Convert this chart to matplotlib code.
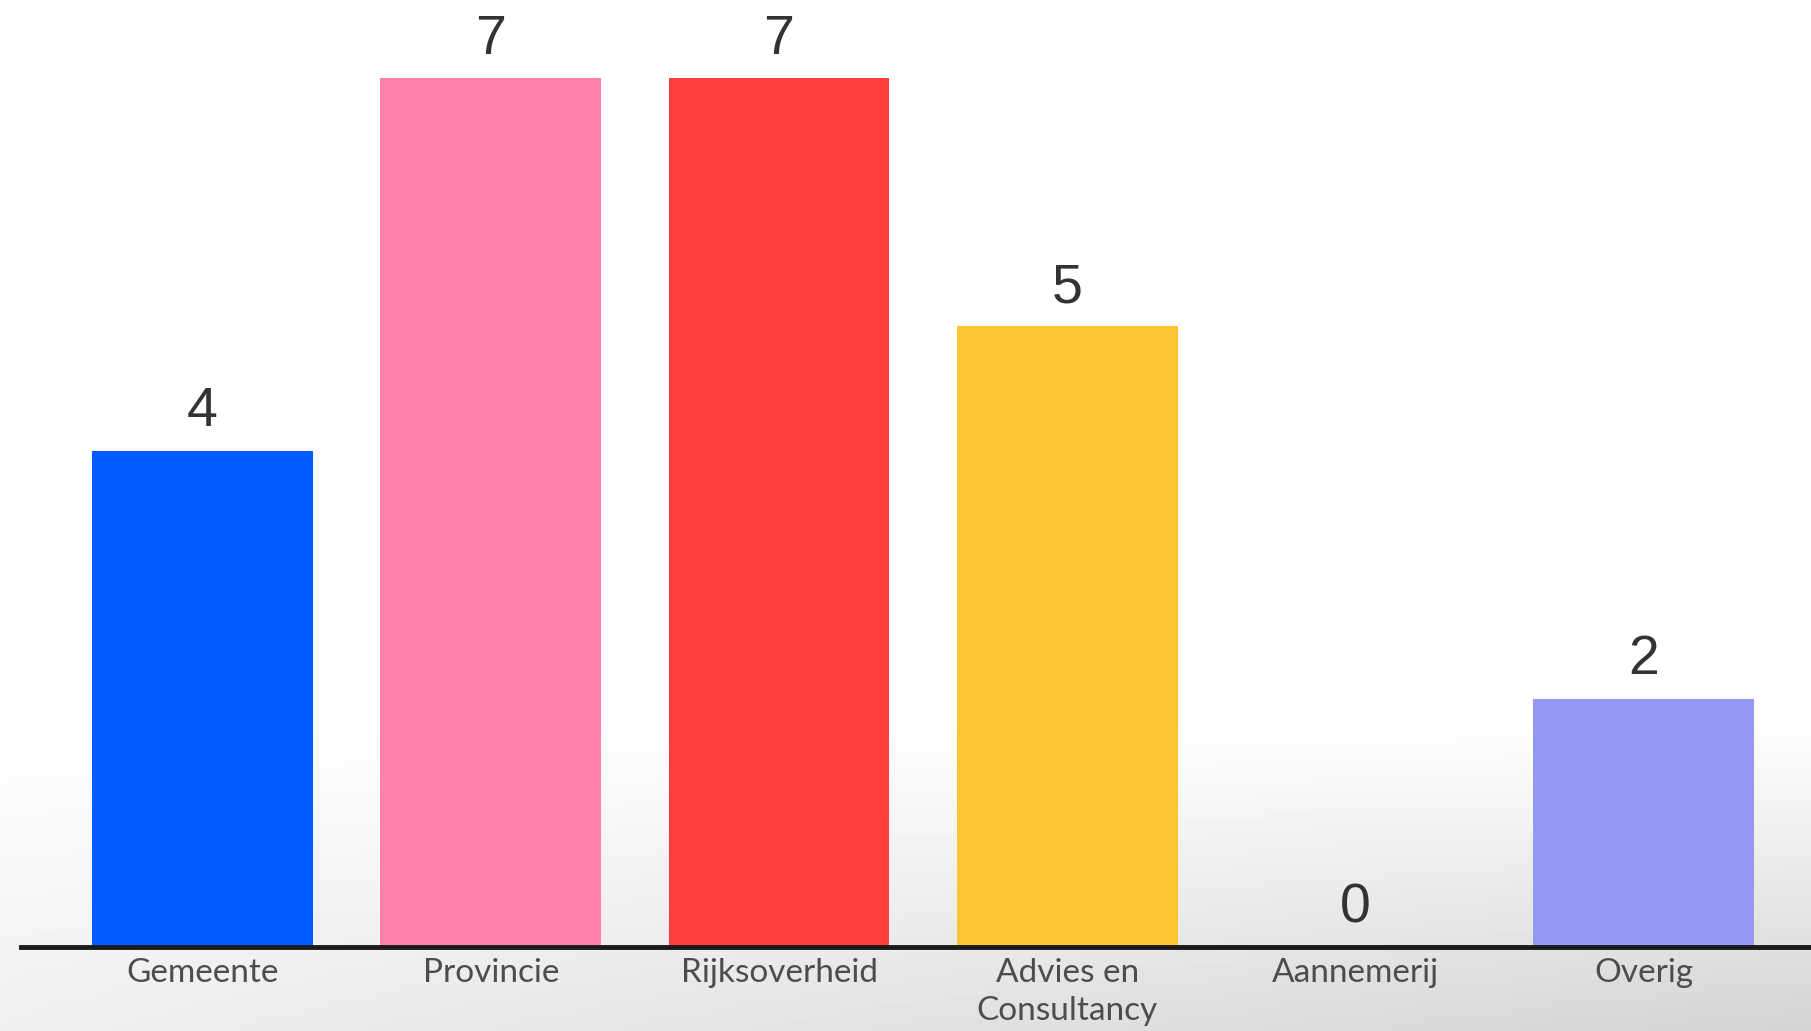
import numpy as np
from matplotlib import pyplot as plt

categories = ['Gemeente', 'Provincie', 'Rijksoverheid', 'Advies en\nConsultancy', 'Aannemerij', 'Overig']
values = [4, 7, 7, 5, 0, 2]
colors = ['#005cff', '#ff80aa', '#ff3f3d', '#fdc532', '#fdc532', '#9598f3']

x = np.arange(len(categories))

fig = plt.figure(figsize=(18.11, 10.31), dpi=100)

# faint grey backdrop towards the bottom right, like the photo behind the chart
bg = fig.add_axes([0, 0, 1, 1], zorder=0)
gy, gx = np.mgrid[0:1:200j, 0:1:200j]
shade = np.clip((gy - 0.7) / 0.3, 0, 1) * (0.35 + 0.65 * gx)
bg.imshow(1 - 0.17 * shade, cmap='gray', vmin=0, vmax=1, aspect='auto',
          extent=[0, 1, 0, 1], origin='upper')
bg.axis('off')

ax = fig.add_axes([0.0115, 0.0815, 0.9885, 0.9185], zorder=1)
ax.patch.set_alpha(0)

ax.bar(x, values, width=0.766, color=colors, zorder=2)

for xi, v in zip(x, values):
    ax.text(xi, v + 0.1, str(v), ha='center', va='bottom',
            fontsize=40, color='#333333', family='Liberation Sans')

ax.set_xlim(-0.631, 5.581)
ax.set_ylim(0, 7.63)
ax.set_yticks([])
ax.set_xticks(x)
ax.set_xticklabels(categories, fontsize=24, color='#4d4d4d', family='Lato',
                   linespacing=1.35, va='top')
ax.tick_params(axis='x', length=0, pad=8)

for s in ['top', 'right', 'left']:
    ax.spines[s].set_visible(False)
ax.spines['bottom'].set_linewidth(3.5)
ax.spines['bottom'].set_color('#1a1a1a')
ax.spines['bottom'].set_zorder(3)

fig.savefig('out.png', dpi=100)
